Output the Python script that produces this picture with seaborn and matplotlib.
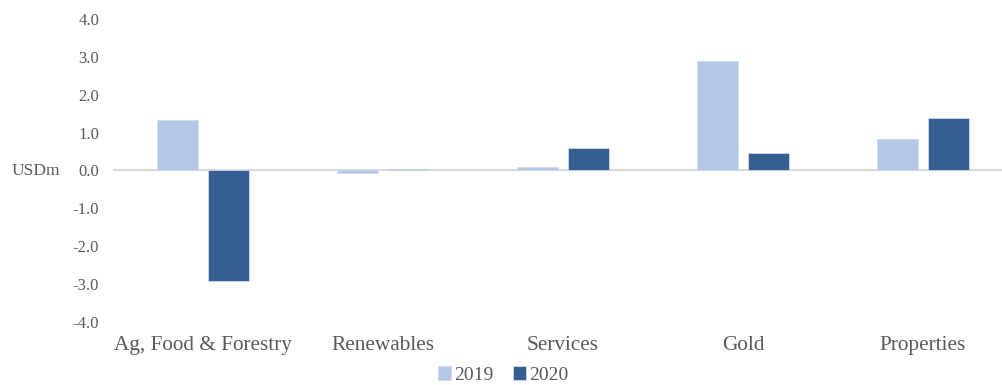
import matplotlib
matplotlib.use("Agg")
import matplotlib.pyplot as plt
import seaborn as sns
import pandas as pd

categories = ["Ag, Food & Forestry", "Renewables", "Services", "Gold", "Properties"]
years = ["2019", "2020"]
values_2019 = [1.34, -0.07, 0.09, 2.89, 0.82]
values_2020 = [-2.92, 0.05, 0.60, 0.45, 1.39]
y_ticks = [-4.0, -3.0, -2.0, -1.0, 0.0, 1.0, 2.0, 3.0, 4.0]

df = pd.DataFrame({
    "category": categories * 2,
    "year": [years[0]] * len(categories) + [years[1]] * len(categories),
    "value": values_2019 + values_2020,
})

sns.set_theme(style="white")
plt.rcParams["font.family"] = ["Liberation Serif", "DejaVu Serif"]

fig = plt.figure(figsize=(10.02, 3.85), dpi=100)
ax = fig.add_axes([113 / 1002, 1 - 322 / 385, 900 / 1002, (322 - 19) / 385])

palette = {"2019": "#B4C7E7", "2020": "#355F91"}
sns.barplot(data=df, x="category", y="value", hue="year", order=categories,
            hue_order=years, palette=palette, width=0.57, gap=0.21,
            edgecolor="#D0DAEE", linewidth=0.6, saturation=1, ax=ax, legend=True)

ax.set_ylim(-4.0, 4.0)
ax.set_xlim(-0.5, len(categories) - 0.5)
ax.set_yticks(y_ticks)
ax.set_yticklabels([f"{v:.1f}" for v in y_ticks], fontsize=12, color="#595959")
ax.tick_params(axis="y", length=0, pad=10)
ax.tick_params(axis="x", length=0, pad=10, labelsize=15.3, labelcolor="#595959")
for s in ax.spines.values():
    s.set_visible(False)
ax.axhline(0, color="#D9D9D9", linewidth=1.5, zorder=0.5)
ax.set_xlabel("")
ax.set_ylabel("")
fig.text(12 / 1002, 1 - 171 / 385, "USDm", fontsize=12.5, color="#595959",
         va="center", ha="left")

handles, labels = ax.get_legend_handles_labels()
ax.legend_.remove()
fig.legend(handles, labels, loc="center", bbox_to_anchor=(503 / 1002, 1 - 375 / 385),
           ncol=2, frameon=False, fontsize=14, handlelength=0.7, handleheight=0.7,
           handletextpad=0.15, columnspacing=1.0, labelcolor="#595959",
           borderpad=0, borderaxespad=0)

fig.savefig("out.png", dpi=100)
